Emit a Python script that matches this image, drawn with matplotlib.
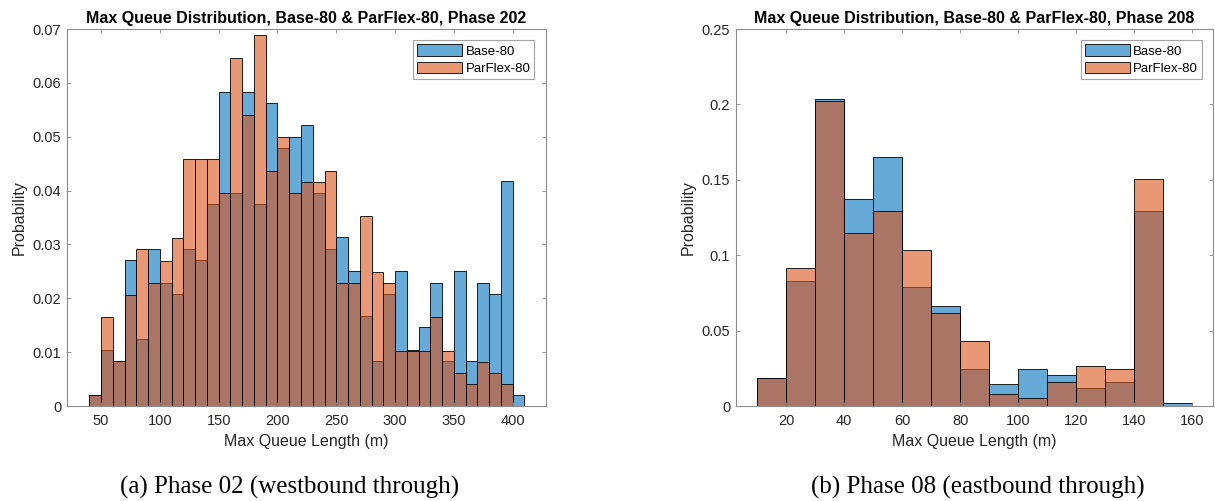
import numpy as np
import matplotlib.pyplot as plt

# Phase 202 histogram (bin width 10 m, first edge 40)
edges_202 = np.arange(40, 411, 10)
base_202 = [0.0021, 0.0104, 0.0083, 0.0271, 0.0125, 0.0292, 0.0229, 0.0208, 0.0292, 0.0271,
            0.0375, 0.0583, 0.0396, 0.0583, 0.0375, 0.0563, 0.0479, 0.0500, 0.0521, 0.0396,
            0.0292, 0.0313, 0.0250, 0.0167, 0.0083, 0.0208, 0.0250, 0.0104, 0.0146, 0.0229,
            0.0083, 0.0250, 0.0083, 0.0229, 0.0208, 0.0417, 0.0021]
parflex_202 = [0.0021, 0.0166, 0.0083, 0.0207, 0.0291, 0.0228, 0.0270, 0.0312, 0.0458, 0.0458,
               0.0458, 0.0395, 0.0646, 0.0541, 0.0688, 0.0437, 0.0500, 0.0395, 0.0416, 0.0416,
               0.0437, 0.0228, 0.0228, 0.0353, 0.0249, 0.0228, 0.0103, 0.0103, 0.0103, 0.0166,
               0.0103, 0.0061, 0.0041, 0.0082, 0.0061, 0.0041, 0.0]

# Phase 208 histogram (bin width 10 m, first edge 10)
edges_208 = np.arange(10, 161, 10)
base_208 = [0.0183, 0.0831, 0.2038, 0.1375, 0.1649, 0.0787, 0.0661, 0.0243, 0.0144, 0.0243,
            0.0203, 0.0117, 0.0159, 0.1291, 0.0018]
parflex_208 = [0.0183, 0.0915, 0.2023, 0.1145, 0.1291, 0.1037, 0.0619, 0.0431, 0.0077, 0.0055,
               0.0159, 0.0263, 0.0243, 0.1503, 0.0]

plt.rcParams['font.family'] = ['Liberation Sans', 'DejaVu Sans']

blue = (0.0, 0.447, 0.741, 0.6)
orange = (0.85, 0.325, 0.098, 0.6)
txt = '#262626'
spine = '#8c8c8c'

fig = plt.figure(figsize=(12.15, 5.01), dpi=100)


def draw(ax, edges, base, parflex, title, xlim, ylim, xticks, yticks, ylabels):
    w = np.diff(edges)
    ax.bar(edges[:-1], base, width=w, align='edge', color=blue, edgecolor='black',
           linewidth=0.6, label='Base-80')
    ax.bar(edges[:-1], parflex, width=w, align='edge', color=orange, edgecolor='black',
           linewidth=0.6, label='ParFlex-80')
    ax.set_xlim(*xlim)
    ax.set_ylim(*ylim)
    ax.set_xticks(xticks)
    ax.set_yticks(yticks)
    ax.set_yticklabels(ylabels)
    ax.tick_params(direction='in', top=True, right=True, labelsize=10.5, colors=txt,
                   length=3, width=0.6, pad=4)
    ax.tick_params(axis='x', pad=6)
    for t in ax.get_xticklabels() + ax.get_yticklabels():
        t.set_color(txt)
    for s in ax.spines.values():
        s.set_color(spine)
        s.set_linewidth(0.8)
    ax.tick_params(axis='both', which='both', color=spine)
    ax.set_title(title, fontsize=11.5, fontweight='bold', pad=4)
    ax.set_xlabel('Max Queue Length (m)', fontsize=11.5, color=txt, labelpad=4)
    ax.set_ylabel('Probability', fontsize=11.5, color=txt, labelpad=4)
    leg = ax.legend(loc='upper right', fontsize=9.5, fancybox=False, edgecolor=spine,
                    handlelength=3.4, handleheight=1.0, borderaxespad=0.85,
                    borderpad=0.3, labelspacing=0.3, handletextpad=0.25)
    leg.get_frame().set_linewidth(0.8)


ax1 = fig.add_axes([0.0551, 0.1896, 0.394, 0.7525])
draw(ax1, edges_202, base_202, parflex_202,
     'Max Queue Distribution, Base-80 & ParFlex-80, Phase 202',
     (21, 428), (0, 0.07), np.arange(50, 401, 50),
     np.arange(0, 0.0701, 0.01), ['0', '0.01', '0.02', '0.03', '0.04', '0.05', '0.06', '0.07'])

ax2 = fig.add_axes([0.6055, 0.1896, 0.393, 0.7525])
draw(ax2, edges_208, base_208, parflex_208,
     'Max Queue Distribution, Base-80 & ParFlex-80, Phase 208',
     (2.6, 167.2), (0, 0.25), np.arange(20, 161, 20),
     np.arange(0, 0.2501, 0.05), ['0', '0.05', '0.1', '0.15', '0.2', '0.25'])

fig.text(0.2387, 0.028, '(a) Phase 02 (westbound through)', ha='center', va='center',
         fontsize=18, family='Liberation Serif', color='black')
fig.text(0.805, 0.028, '(b) Phase 08 (eastbound through)', ha='center', va='center',
         fontsize=18, family='Liberation Serif', color='black')

fig.savefig('out.png', dpi=100)
